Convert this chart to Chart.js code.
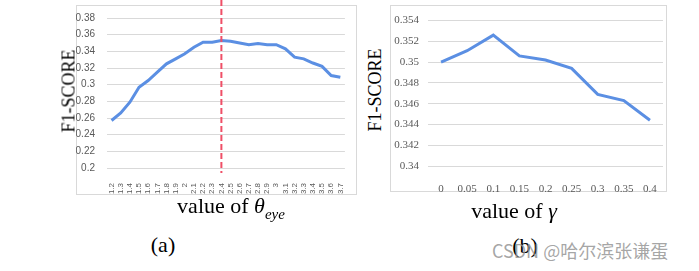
<!DOCTYPE html>
<html>
<head>
<meta charset="utf-8">
<script src="https://cdn.jsdelivr.net/npm/chart.js@4"></script>
<style>
  body { margin: 0; width: 699px; height: 271px; background: #fff; position: relative; overflow: hidden; }
  .box { position: absolute; border: 1px solid #d9d9d9; box-sizing: border-box; }
  .plot { position: absolute; }
  .serif { position: absolute; font-family: 'Liberation Serif', 'Times New Roman', serif; color: #000; white-space: nowrap; }
  .ytitle { font-size: 18px; transform: translate(-50%, -50%) rotate(-90deg); }
  .center { transform: translate(-50%, -50%); }
  .mark { position: absolute; font-family: 'Noto Sans CJK SC', 'Liberation Sans', sans-serif; font-size: 18px; color: rgba(150,150,150,0.85); white-space: nowrap; }
</style>
</head>
<body>
<div class="box" style="left:76px; top:5px; width:281px; height:190px;"></div>
<div class="plot" style="left:76px; top:0px; width:281px; height:195px;"><canvas id="chartA"></canvas></div>
<div class="box" style="left:390px; top:5px; width:277px; height:187px;"></div>
<div class="plot" style="left:390px; top:5px; width:277px; height:187px;"><canvas id="chartB"></canvas></div>

<div class="serif ytitle" style="left:69px; top:91px;">F1-SCORE</div>
<div class="serif ytitle" style="left:375px; top:90px;">F1-SCORE</div>
<div class="serif center" style="left:231px; top:208px; font-size:22px;">value of <i>θ</i><sub style="font-size:15px;"><i>eye</i></sub></div>
<div class="serif center" style="left:514px; top:211px; font-size:22px;">value of <i>γ</i></div>
<div class="serif center" style="left:163px; top:245px; font-size:22px;">(a)</div>
<div class="serif center" style="left:525px; top:246px; font-size:22px;">(b)</div>
<div class="mark" style="left:492px; top:237px;">CSDN @哈尔滨张谦蛋</div>

<script>
// (a) F1-score vs theta_eye
const thetaLabels = ['1.2', '1.3', '1.4', '1.5', '1.6', '1.7', '1.8', '1.9', '2', '2.1', '2.2', '2.3', '2.4',
  '2.5', '2.6', '2.7', '2.8', '2.9', '3', '3.1', '3.2', '3.3', '3.4', '3.5', '3.6', '3.7'];
const thetaScores = [0.257, 0.266, 0.279, 0.297, 0.305, 0.315, 0.325, 0.331, 0.337, 0.345, 0.351, 0.351, 0.353,
  0.352, 0.350, 0.348, 0.3495, 0.348, 0.348, 0.343, 0.333, 0.331, 0.326, 0.322, 0.311, 0.309];
const thetaMarked = '2.4';

// (b) F1-score vs gamma
const gammaLabels = ['0', '0.05', '0.1', '0.15', '0.2', '0.25', '0.3', '0.35', '0.4'];
const gammaScores = [0.3500, 0.3511, 0.3526, 0.3506, 0.3502, 0.3494, 0.3469, 0.3463, 0.3444];

const lineBlue = '#5b8fe3';
const gridGrey = '#d9d9d9';
const tickGrey = '#595959';

const markerLine = {
  id: 'markerLine',
  afterDatasetsDraw(chart) {
    const ctx = chart.ctx;
    const x = chart.scales.x.getPixelForValue(thetaLabels.indexOf(thetaMarked));
    ctx.save();
    ctx.strokeStyle = '#ef4f67';
    ctx.lineWidth = 2;
    ctx.setLineDash([6, 3]);
    ctx.beginPath();
    ctx.moveTo(x, 0);
    ctx.lineTo(x, chart.chartArea.bottom + 5);
    ctx.stroke();
    ctx.restore();
  }
};

new Chart(document.getElementById('chartA'), {
  type: 'line',
  data: {
    labels: thetaLabels,
    datasets: [{ data: thetaScores, borderColor: lineBlue, borderWidth: 3, pointRadius: 0, tension: 0 }]
  },
  options: {
    responsive: true,
    maintainAspectRatio: false,
    animation: false,
    layout: { padding: { left: 0, right: 3, top: 15, bottom: 0 } },
    plugins: { legend: { display: false }, tooltip: { enabled: false } },
    scales: {
      x: {
        offset: true,
        grid: { display: false },
        border: { display: false },
        ticks: {
          autoSkip: false, maxRotation: 90, minRotation: 90, padding: 7, color: tickGrey,
          font: { family: "'Liberation Sans Narrow', 'Liberation Sans', Arial", size: 8 }
        },
        afterFit: s => { s.height = 27; }
      },
      y: {
        min: 0.2, max: 0.38,
        grid: { color: gridGrey, drawTicks: false },
        border: { display: false },
        ticks: {
          stepSize: 0.02, padding: 12, color: tickGrey,
          font: { family: "'Liberation Sans Narrow', 'Liberation Sans', Arial", size: 10 },
          callback: v => String(parseFloat(v.toFixed(2)))
        },
        afterFit: s => { s.width = 31; }
      }
    }
  },
  plugins: [markerLine]
});

new Chart(document.getElementById('chartB'), {
  type: 'line',
  data: {
    labels: gammaLabels,
    datasets: [{ data: gammaScores, borderColor: lineBlue, borderWidth: 3, pointRadius: 0, tension: 0 }]
  },
  options: {
    responsive: true,
    maintainAspectRatio: false,
    animation: false,
    layout: { padding: { left: 0, right: 4, top: 10, bottom: 0 } },
    plugins: { legend: { display: false }, tooltip: { enabled: false } },
    scales: {
      x: {
        offset: true,
        grid: { display: false },
        border: { display: false },
        ticks: {
          autoSkip: false, maxRotation: 0, padding: 9, color: tickGrey,
          font: { family: "'Liberation Serif', 'Times New Roman', serif", size: 11 }
        },
        afterFit: s => { s.height = 26; }
      },
      y: {
        min: 0.34, max: 0.354,
        grid: { color: gridGrey, drawTicks: false },
        border: { display: false },
        ticks: {
          stepSize: 0.002, padding: 9, color: tickGrey,
          font: { family: "'Liberation Serif', 'Times New Roman', serif", size: 11 },
          callback: v => String(parseFloat(v.toFixed(3)))
        },
        afterFit: s => { s.width = 38; }
      }
    }
  }
});
</script>
</body>
</html>
